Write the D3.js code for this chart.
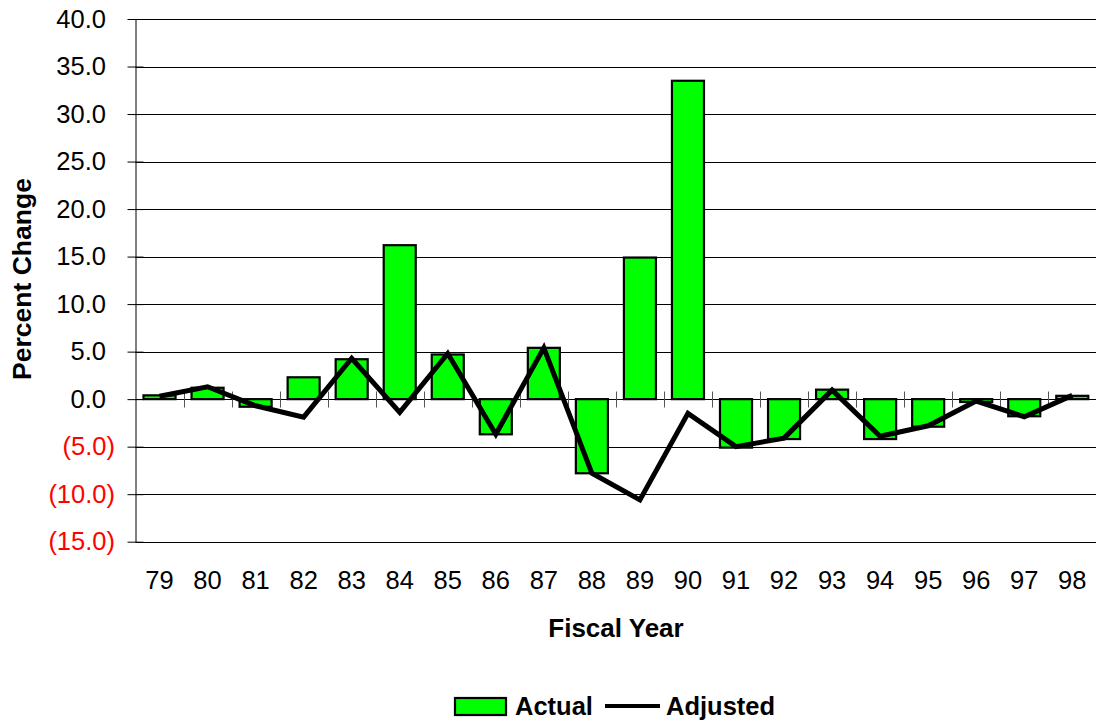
<!DOCTYPE html>
<html>
<head>
<meta charset="utf-8">
<script src="https://cdn.jsdelivr.net/npm/d3@7"></script>
<style>
  html, body { margin: 0; padding: 0; background: #fff; }
  svg { display: block; font-family: "Liberation Sans", Arial, sans-serif; }
</style>
</head>
<body>
<svg id="chart" width="1096" height="723"></svg>
<script>
const years = ["79","80","81","82","83","84","85","86","87","88","89","90","91","92","93","94","95","96","97","98"];
const actual = [0.4, 1.2, -0.8, 2.3, 4.2, 16.2, 4.7, -3.7, 5.4, -7.8, 14.9, 33.5, -5.1, -4.2, 1.0, -4.2, -2.9, -0.3, -1.8, 0.35];
const adjusted = [0.3, 1.3, -0.7, -1.9, 4.3, -1.4, 4.8, -3.7, 5.4, -7.8, -10.6, -1.5, -5.0, -4.1, 0.95, -3.9, -2.8, -0.2, -1.85, 0.4];
const yTicks = [40, 35, 30, 25, 20, 15, 10, 5, 0, -5, -10, -15];
const seriesNames = ["Actual", "Adjusted"];
const xTitle = "Fiscal Year";
const yTitle = "Percent Change";

const svg = d3.select("#chart");
const pLeft = 135.5, pRight = 1096.3, pTop = 19, pBottom = 541.7;

const x = d3.scaleBand().domain(years).range([pLeft, pRight]).paddingInner(1/3).paddingOuter(1/6);
const y = d3.scaleLinear().domain([-15, 40]).range([pBottom, pTop]);
const fmt = v => v < 0 ? "(" + d3.format(".1f")(-v) + ")" : d3.format(".1f")(v);

// gridlines
svg.append("g").selectAll("line").data(yTicks).join("line")
  .attr("x1", pLeft).attr("x2", pRight)
  .attr("y1", d => Math.round(y(d)) + 0.5).attr("y2", d => Math.round(y(d)) + 0.5)
  .attr("stroke", "#000").attr("stroke-width", 1);

// y axis
const yAxis = d3.axisLeft(y).tickValues(yTicks).tickFormat(fmt).tickSizeInner(8).tickSizeOuter(0).tickPadding(21);
const gy = svg.append("g").attr("transform", `translate(${pLeft},0)`).call(yAxis);
gy.select(".domain").attr("stroke", "#000");
gy.selectAll(".tick line").attr("x2", -8).attr("x1", 8).attr("stroke", "#000");
gy.selectAll(".tick text")
  .attr("font-size", 25.5)
  .attr("x", d => d < 0 ? -20.5 : -29.5)
  .attr("fill", d => d < 0 ? "#ff0000" : "#000")
  .attr("font-family", "Liberation Sans, Arial, sans-serif");

// bars
svg.append("g").selectAll("rect").data(actual).join("rect")
  .attr("x", (d, i) => x(years[i]))
  .attr("width", x.bandwidth())
  .attr("y", d => y(Math.max(0, d)))
  .attr("height", d => Math.abs(y(d) - y(0)))
  .attr("fill", "#00ff00").attr("stroke", "#000").attr("stroke-width", 2.2);

// category axis at zero
const y0 = Math.round(y(0)) + 0.5;
svg.append("line").attr("x1", pLeft).attr("x2", pRight).attr("y1", y0).attr("y2", y0)
  .attr("stroke", "#000").attr("stroke-width", 1);
const boundaries = years.slice(1).map(c => x(c) - x.step() * x.paddingInner() / 2);
svg.append("g").selectAll("line").data(boundaries).join("line")
  .attr("x1", d => Math.round(d) + 0.5).attr("x2", d => Math.round(d) + 0.5)
  .attr("y1", y0 - 8).attr("y2", y0 + 8)
  .attr("stroke", "#555").attr("stroke-width", 1);

// x labels
const xAxis = d3.axisBottom(x).tickSize(0).tickPadding(0);
const gx = svg.append("g").attr("transform", `translate(0,${pBottom})`).call(xAxis);
gx.select(".domain").remove();
gx.selectAll(".tick text").attr("font-size", 25.5).attr("fill", "#000")
  .attr("dy", null).attr("y", 47.5)
  .attr("font-family", "Liberation Sans, Arial, sans-serif");

// adjusted line
const line = d3.line().x((d, i) => x(years[i]) + x.bandwidth() / 2).y(d => y(d));
svg.append("path").datum(adjusted).attr("d", line)
  .attr("fill", "none").attr("stroke", "#000").attr("stroke-width", 5)
  .attr("stroke-linejoin", "miter");

// axis titles
svg.append("text").attr("x", 616).attr("y", 637).attr("text-anchor", "middle")
  .attr("font-size", 26).attr("font-weight", "bold").text(xTitle);
svg.append("text").attr("transform", "translate(31,279) rotate(-90)").attr("text-anchor", "middle")
  .attr("font-size", 26.5).attr("font-weight", "bold").text(yTitle);

// legend
const lg = svg.append("g");
lg.append("rect").attr("x", 455).attr("y", 698).attr("width", 51).attr("height", 17)
  .attr("fill", "#00ff00").attr("stroke", "#000").attr("stroke-width", 2.2);
lg.append("text").attr("x", 515).attr("y", 715).attr("font-size", 25.5).attr("font-weight", "bold").text(seriesNames[0]);
lg.append("line").attr("x1", 605).attr("x2", 660).attr("y1", 706).attr("y2", 706)
  .attr("stroke", "#000").attr("stroke-width", 4);
lg.append("text").attr("x", 666).attr("y", 715).attr("font-size", 25.5).attr("font-weight", "bold").text(seriesNames[1]);
</script>
</body>
</html>
